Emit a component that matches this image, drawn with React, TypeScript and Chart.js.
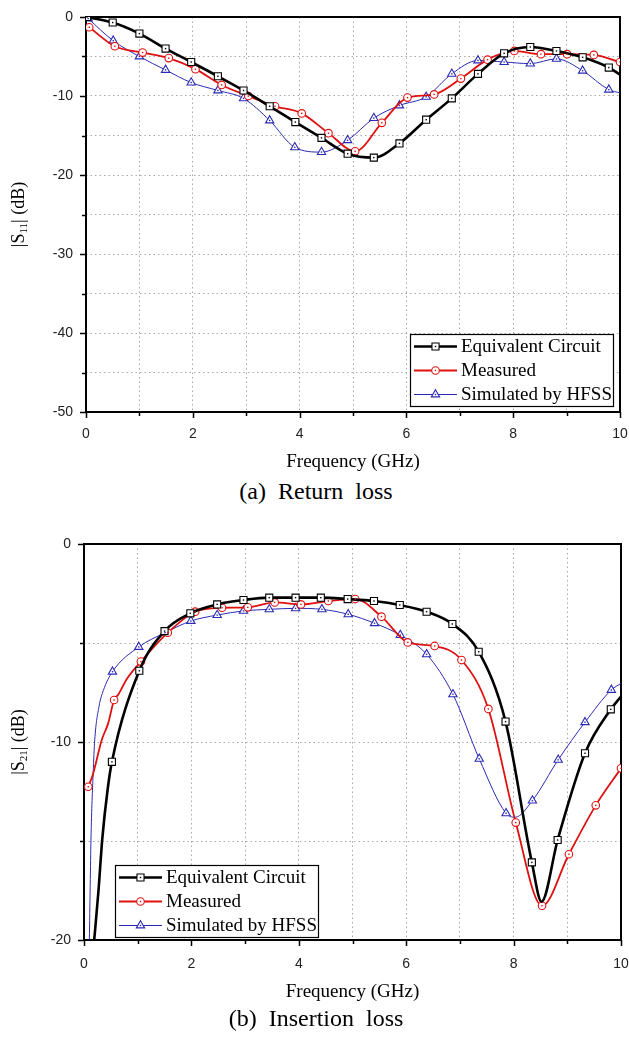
import React, { useEffect, useRef } from "react";
import { Chart, registerables } from "chart.js";

Chart.register(...registerables);

const FONT_SANS = '"Liberation Sans", Arial, sans-serif';
const FONT_SERIF = '"Liberation Serif", "Times New Roman", serif';

// ---------- Series meta ----------
const SERIES_LABELS = ["Equivalent Circuit", "Measured", "Simulated by HFSS"];
const SERIES_COLORS = ["#000000", "#e01010", "#2a2ab4"];
const LINE_WIDTHS = [2.6, 1.8, 1.0];
const POINT_STYLES = ["rect", "circle", "triangle"];
const POINT_RADII = [5.0, 3.8, 4.8];

// ---------- (a) Return loss |S11| ----------
const X_TICKS_A = [0, 2, 4, 6, 8, 10];
const Y_TICKS_A = [-50, -40, -30, -20, -10, 0];

// Equivalent circuit (marker points)
const eqA_f = [0.02, 0.5, 1.0, 1.49, 1.97, 2.47, 2.95, 3.44, 3.92, 4.41, 4.9, 5.39, 5.87, 6.37, 6.85, 7.34, 7.83, 8.32, 8.81, 9.3, 9.79];
const eqA_v = [0, -0.7, -2.1, -4.0, -5.7, -7.5, -9.3, -11.3, -13.3, -15.3, -17.3, -17.8, -16.0, -13.0, -10.3, -7.2, -4.6, -3.8, -4.3, -5.1, -6.4];
// Equivalent circuit (curve-only points)
const eqA_cf = [10];
const eqA_cv = [-7.3];

// Measured
const measA_f = [0.06, 0.54, 1.06, 1.55, 2.05, 2.54, 3.04, 3.54, 4.04, 4.54, 5.04, 5.54, 6.02, 6.52, 7.02, 7.52, 8.02, 8.52, 9.01, 9.51, 10.0];
const measA_v = [-1.3, -3.7, -4.5, -5.2, -6.6, -8.6, -10.0, -11.3, -12.2, -14.7, -17.0, -13.4, -10.2, -9.8, -7.8, -5.4, -4.3, -4.7, -4.7, -4.8, -5.7];
const measA_cf: number[] = [];
const measA_cv: number[] = [];

// Simulated by HFSS
const simA_f = [0.04, 0.51, 1.0, 1.49, 1.97, 2.47, 2.95, 3.44, 3.91, 4.41, 4.9, 5.39, 5.87, 6.37, 6.85, 7.34, 7.83, 8.32, 8.81, 9.3, 9.79];
const simA_v = [-0.2, -3.0, -5.0, -6.7, -8.3, -9.3, -10.3, -13.1, -16.5, -17.1, -15.6, -12.8, -11.2, -10.1, -7.2, -5.5, -5.7, -5.9, -5.3, -6.8, -9.2];
const simA_cf = [10];
const simA_cv = [-9.6];

// ---------- (b) Insertion loss |S21| ----------
const X_TICKS_B = [0, 2, 4, 6, 8, 10];
const Y_TICKS_B = [-20, -10, 0];

const eqB_f = [0.52, 1.03, 1.5, 1.98, 2.48, 2.97, 3.45, 3.94, 4.41, 4.91, 5.4, 5.88, 6.38, 6.86, 7.35, 7.85, 8.34, 8.82, 9.33, 9.81];
const eqB_v = [-11.0, -6.4, -4.4, -3.5, -3.05, -2.83, -2.71, -2.71, -2.71, -2.78, -2.88, -3.08, -3.42, -4.04, -5.44, -8.97, -16.08, -14.95, -10.57, -8.35];
const eqB_cf = [0.19, 0.27, 0.34, 0.44, 8.52, 10];
const eqB_cv = [-20, -17.5, -14.9, -12.4, -18.07, -7.7];

const measB_f = [0.08, 0.56, 1.06, 1.56, 2.07, 2.57, 3.05, 3.55, 4.04, 4.55, 5.05, 5.54, 6.03, 6.53, 7.03, 7.53, 8.04, 8.53, 9.03, 9.53, 10.0];
const measB_v = [-12.26, -7.88, -5.94, -4.48, -3.42, -3.22, -3.2, -2.95, -3.05, -2.88, -2.78, -3.67, -4.97, -5.15, -5.86, -8.33, -14.07, -18.27, -15.67, -13.2, -11.33];
const measB_cf = [0.17, 0.33, 0.45, 0.64, 0.8];
const measB_cv = [-11.6, -9.9, -9.06, -7.6, -6.8];

const simB_f = [0.53, 1.02, 1.51, 1.99, 2.48, 2.97, 3.45, 3.94, 4.43, 4.92, 5.41, 5.89, 6.38, 6.87, 7.36, 7.86, 8.35, 8.83, 9.33, 9.82];
const simB_v = [-6.45, -5.2, -4.48, -3.89, -3.59, -3.38, -3.3, -3.25, -3.3, -3.55, -4.0, -4.6, -5.57, -7.59, -10.85, -13.6, -12.96, -10.9, -9.0, -7.37];
const simB_cf = [0.1, 0.13, 0.17, 0.2, 0.28, 0.36, 8.03, 10];
const simB_cv = [-20, -14.9, -11.6, -9.9, -8.2, -7.4, -13.8, -7.04];

type Pt = { x: number; y: number; m: number };

function buildSeries(mf: number[], mv: number[], cf: number[], cv: number[]): Pt[] {
  const pts: Pt[] = mf
    .map((x, i) => ({ x, y: mv[i], m: 1 }))
    .concat(cf.map((x, i) => ({ x, y: cv[i], m: 0 })));
  pts.sort((a, b) => a.x - b.x);
  return pts;
}

function drawMarker(ctx: CanvasRenderingContext2D, style: string, x: number, y: number, r: number, color: string) {
  ctx.beginPath();
  if (style === "rect") {
    const s = Math.SQRT1_2 * r;
    ctx.rect(x - s, y - s, 2 * s, 2 * s);
  } else if (style === "circle") {
    ctx.arc(x, y, r, 0, Math.PI * 2);
  } else {
    for (let k = 0; k < 3; k++) {
      const ang = (k * 2 * Math.PI) / 3;
      const px = x + Math.sin(ang) * r;
      const py = y - Math.cos(ang) * r;
      if (k === 0) ctx.moveTo(px, py);
      else ctx.lineTo(px, py);
    }
    ctx.closePath();
  }
  ctx.fillStyle = "#fff";
  ctx.fill();
  ctx.strokeStyle = color;
  ctx.lineWidth = 1.1;
  ctx.stroke();
  ctx.fillStyle = color;
  ctx.fillRect(x - 0.7, y - 0.7, 1.4, 1.4);
}

type Cfg = {
  height: number;
  padTop: number;
  padRight: number;
  yAxisW: number;
  plotBottom: number;
  xTickPad: number;
  ymin: number;
  ymax: number;
  xTicks: number[];
  yTicks: number[];
  sub: string;
  series: Pt[][];
  legendRight: boolean;
  legendDX: number;
  legendDY: number;
  xTitleDY: number;
};

function makePlugin(o: Cfg) {
  return {
    id: "frameAndText",
    beforeDatasetsDraw(chart: any) {
      const { ctx, chartArea: a, scales } = chart;
      const xs = scales.x;
      const ys = scales.y;
      ctx.save();
      ctx.strokeStyle = "#000";
      ctx.lineWidth = 1.5;
      ctx.beginPath();
      for (let v = 0; v <= 10; v += 1) {
        const px = Math.round(xs.getPixelForValue(v)) + 0.5;
        const len = o.xTicks.includes(v) ? 6 : 4;
        ctx.moveTo(px, a.bottom);
        ctx.lineTo(px, a.bottom + len);
      }
      for (let v = o.ymin; v <= o.ymax; v += 5) {
        const py = Math.round(ys.getPixelForValue(v)) + 0.5;
        const len = o.yTicks.includes(v) ? 6 : 4;
        ctx.moveTo(a.left - len, py);
        ctx.lineTo(a.left, py);
      }
      ctx.stroke();
      ctx.lineWidth = 2;
      ctx.strokeRect(a.left, a.top, a.right - a.left, a.bottom - a.top);
      ctx.restore();
    },
    afterDatasetsDraw(chart: any) {
      const { ctx, chartArea: a } = chart;
      ctx.save();
      // center dots of markers
      chart.getSortedVisibleDatasetMetas().forEach((meta: any) => {
        const color = SERIES_COLORS[meta.index];
        ctx.fillStyle = color;
        meta.data.forEach((el: any) => {
          if (el.options && el.options.radius > 0 && !el.skip) {
            ctx.fillRect(el.x - 0.7, el.y - 0.7, 1.4, 1.4);
          }
        });
      });

      // legend box
      const bw = 204;
      const bh = 73;
      const bx = o.legendRight ? a.right - o.legendDX - bw : a.left + o.legendDX;
      const by = a.bottom - o.legendDY - bh;
      ctx.fillStyle = "#fff";
      ctx.fillRect(bx, by, bw, bh);
      ctx.strokeStyle = "#000";
      ctx.lineWidth = 1.2;
      ctx.strokeRect(bx + 0.5, by + 0.5, bw - 1, bh - 1);
      for (let i = 0; i < 3; i++) {
        const ry = by + 12.5 + 24 * i;
        ctx.strokeStyle = SERIES_COLORS[i];
        ctx.lineWidth = LINE_WIDTHS[i];
        ctx.beginPath();
        ctx.moveTo(bx + 4, ry);
        ctx.lineTo(bx + 47, ry);
        ctx.stroke();
        drawMarker(ctx, POINT_STYLES[i], bx + 25.5, ry, POINT_RADII[i], SERIES_COLORS[i]);
        ctx.fillStyle = "#000";
        ctx.font = `19px ${FONT_SERIF}`;
        ctx.textAlign = "left";
        ctx.textBaseline = "middle";
        ctx.fillText(SERIES_LABELS[i], bx + 51, ry + 1);
      }

      // x title
      ctx.fillStyle = "#000";
      ctx.font = `19px ${FONT_SERIF}`;
      ctx.textAlign = "center";
      ctx.textBaseline = "middle";
      ctx.fillText("Frequency (GHz)", (a.left + a.right) / 2, a.bottom + o.xTitleDY);

      // y title with subscript
      ctx.translate(19, (a.top + a.bottom) / 2);
      ctx.rotate(-Math.PI / 2);
      const parts = [
        { t: "|S", f: `18px ${FONT_SERIF}`, dy: 0 },
        { t: o.sub, f: `11px ${FONT_SERIF}`, dy: 5 },
        { t: "| (dB)", f: `18px ${FONT_SERIF}`, dy: 0 },
      ];
      let total = 0;
      const widths = parts.map((p) => {
        ctx.font = p.f;
        const w = ctx.measureText(p.t).width;
        total += w;
        return w;
      });
      let cx = -total / 2;
      ctx.textAlign = "left";
      parts.forEach((p, i) => {
        ctx.font = p.f;
        ctx.fillText(p.t, cx, p.dy);
        cx += widths[i];
      });
      ctx.restore();
    },
  };
}

function ChartCanvas({ top, cfg }: { top: number; cfg: Cfg }) {
  const ref = useRef<HTMLCanvasElement>(null);
  useEffect(() => {
    const canvas = ref.current;
    if (!canvas) return;
    const datasets = cfg.series.map((pts, i) => ({
      label: SERIES_LABELS[i],
      data: pts,
      borderColor: SERIES_COLORS[i],
      backgroundColor: "#ffffff",
      borderWidth: LINE_WIDTHS[i],
      pointStyle: POINT_STYLES[i] as any,
      pointRadius: (c: any) => (c.raw && c.raw.m ? POINT_RADII[i] : 0),
      pointBorderWidth: 1.1,
      pointBorderColor: SERIES_COLORS[i],
      pointBackgroundColor: "#ffffff",
      cubicInterpolationMode: "monotone" as const,
      fill: false,
    }));
    const tickFont = { family: FONT_SANS, size: 14 };
    const chart = new Chart(canvas, {
      type: "line",
      data: { datasets },
      options: {
        animation: false,
        responsive: false,
        devicePixelRatio: 1,
        events: [],
        layout: { padding: { top: cfg.padTop, right: cfg.padRight, left: 0, bottom: 0 } },
        plugins: { legend: { display: false }, tooltip: { enabled: false } },
        scales: {
          x: {
            type: "linear",
            min: 0,
            max: 10,
            afterFit: (s: any) => {
              s.height = cfg.height - cfg.plotBottom;
              s.paddingLeft = 0;
              s.paddingRight = 0;
            },
            ticks: {
              stepSize: 1,
              autoSkip: false,
              maxRotation: 0,
              padding: cfg.xTickPad,
              color: "#222",
              font: tickFont,
              callback: (v: any) => (cfg.xTicks.includes(Number(v)) ? String(v) : ""),
            },
            grid: { drawTicks: false, color: "#a8a8a8", lineWidth: 1 },
            border: { display: false, dash: [1.5, 3] },
          },
          y: {
            type: "linear",
            min: cfg.ymin,
            max: cfg.ymax,
            afterFit: (s: any) => {
              s.width = cfg.yAxisW;
              s.paddingTop = 0;
              s.paddingBottom = 0;
            },
            ticks: {
              stepSize: 5,
              padding: 13,
              color: "#222",
              font: tickFont,
              callback: (v: any) => (cfg.yTicks.includes(Number(v)) ? String(v) : ""),
            },
            grid: { drawTicks: false, color: "#a8a8a8", lineWidth: 1 },
            border: { display: false, dash: [1.5, 3] },
          },
        },
      },
      plugins: [makePlugin(cfg) as any],
    });
    return () => chart.destroy();
  }, []);
  return (
    <canvas
      ref={ref}
      width={629}
      height={cfg.height}
      style={{ position: "absolute", left: 0, top, width: 629, height: cfg.height }}
    />
  );
}

const cfgA: Cfg = {
  height: 475,
  padTop: 17,
  padRight: 9,
  yAxisW: 86,
  plotBottom: 412,
  xTickPad: 14,
  ymin: -50,
  ymax: 0,
  xTicks: X_TICKS_A,
  yTicks: Y_TICKS_A,
  sub: "11",
  series: [
    buildSeries(eqA_f, eqA_v, eqA_cf, eqA_cv),
    buildSeries(measA_f, measA_v, measA_cf, measA_cv),
    buildSeries(simA_f, simA_v, simA_cf, simA_cv),
  ],
  legendRight: true,
  legendDX: 6,
  legendDY: 5,
  xTitleDY: 50,
};

const cfgB: Cfg = {
  height: 485,
  padTop: 24,
  padRight: 8,
  yAxisW: 84,
  plotBottom: 420,
  xTickPad: 16,
  ymin: -20,
  ymax: 0,
  xTicks: X_TICKS_B,
  yTicks: Y_TICKS_B,
  sub: "21",
  series: [
    buildSeries(eqB_f, eqB_v, eqB_cf, eqB_cv),
    buildSeries(measB_f, measB_v, measB_cf, measB_cv),
    buildSeries(simB_f, simB_v, simB_cf, simB_cv),
  ],
  legendRight: false,
  legendDX: 31,
  legendDY: 2,
  xTitleDY: 52,
};

const captionStyle: React.CSSProperties = {
  position: "absolute",
  left: 0,
  width: 632,
  textAlign: "center",
  fontFamily: FONT_SERIF,
  fontSize: 24,
  lineHeight: "30px",
  color: "#000",
  whiteSpace: "pre",
};

export default function App() {
  return (
    <div style={{ position: "absolute", left: 0, top: 0, width: 629, height: 1037, background: "#fff", overflow: "hidden" }}>
      <ChartCanvas top={0} cfg={cfgA} />
      <div style={{ ...captionStyle, top: 476 }}>{"(a)  Return  loss"}</div>
      <ChartCanvas top={520} cfg={cfgB} />
      <div style={{ ...captionStyle, top: 1003 }}>{"(b)  Insertion  loss"}</div>
    </div>
  );
}
